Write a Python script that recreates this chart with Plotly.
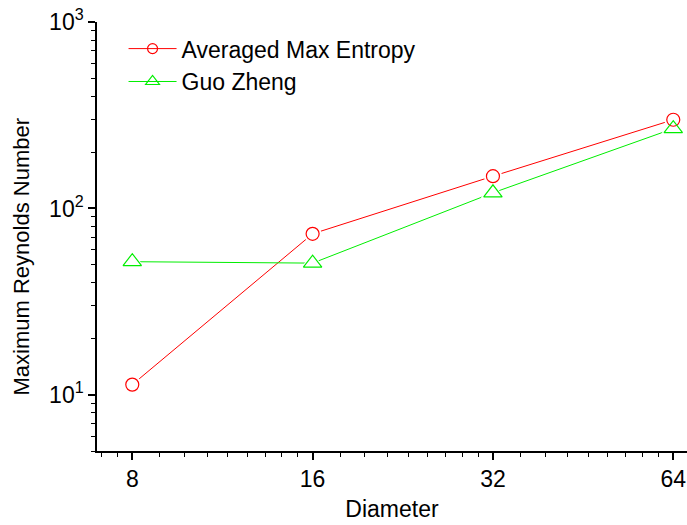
import math
import plotly.graph_objects as go

# Maximum Reynolds number vs. lattice diameter
diameter = [8, 16, 32, 64]
max_entropy = [11.35, 73.1, 148.9, 299]
guo_zheng = [51.8, 50.9, 121.3, 268]

series_names = ["Averaged Max Entropy", "Guo Zheng"]
x_tick_vals = [8, 16, 32, 64]
x_tick_text = ["8", "16", "32", "64"]
y_tick_vals = [10, 100, 1000]
y_tick_text = ["10<sup>1</sup>", "10<sup>2</sup>", "10<sup>3</sup>"]

FONT = "Arial, Liberation Sans, sans-serif"
RED = "#ff0000"
GREEN = "#00ee00"

# minor ticks: each octave split into nine equal linear steps
x_minor = []
for base in [4, 8, 16, 32, 64]:
    x_minor += [base + base * k / 9 for k in range(1, 9)]
# minor ticks on the log y axis: 2..9 of every decade
y_minor = [m * 10 ** p for p in range(0, 3) for m in range(2, 10)]

styles = [
    dict(name=series_names[0], y=max_entropy, color=RED, symbol="circle-open", size=13, legsize=10),
    dict(name=series_names[1], y=guo_zheng, color=GREEN, symbol="triangle-up-open", size=16, legsize=12),
]

fig = go.Figure()

# connecting lines
for s in styles:
    fig.add_trace(go.Scatter(x=diameter, y=s["y"], mode="lines", showlegend=False,
                             line=dict(color=s["color"], width=1), hoverinfo="skip"))
# white halos leave a small gap between line and symbol
for s in styles:
    fig.add_trace(go.Scatter(x=diameter, y=s["y"], mode="markers", showlegend=False,
                             marker=dict(symbol=s["symbol"].replace("-open", ""), size=s["size"] + 5,
                                         color="white", line=dict(width=0)),
                             hoverinfo="skip"))
# open symbols
for s in styles:
    fig.add_trace(go.Scatter(x=diameter, y=s["y"], mode="markers", showlegend=False,
                             marker=dict(symbol=s["symbol"], size=s["size"], color=s["color"],
                                         line=dict(color=s["color"], width=1.2)),
                             name=s["name"]))
# legend entries
for s in styles:
    fig.add_trace(go.Scatter(x=[None], y=[None], mode="lines+markers", name=s["name"],
                             line=dict(color=s["color"], width=1),
                             marker=dict(symbol=s["symbol"], size=s["legsize"], color=s["color"],
                                         line=dict(color=s["color"], width=1.2))))

axis_common = dict(
    type="log",
    showgrid=False,
    zeroline=False,
    showline=True,
    linecolor="black",
    linewidth=1.5,
    ticks="outside",
    ticklen=7,
    tickwidth=1.5,
    tickcolor="black",
    tickfont=dict(family=FONT, size=23, color="black"),
)

fig.update_layout(
    width=687,
    height=525,
    margin=dict(l=97, r=0, t=22, b=74),
    paper_bgcolor="white",
    plot_bgcolor="white",
    font=dict(family=FONT, color="black"),
    xaxis=dict(
        **axis_common,
        range=[0.8442, 1.8291],
        tickmode="array",
        tickvals=x_tick_vals,
        ticktext=x_tick_text,
        minor=dict(tickmode="array", tickvals=x_minor, ticks="outside", ticklen=4,
                   tickwidth=1.2, tickcolor="black", showgrid=False),
        title=dict(text="Diameter", font=dict(family=FONT, size=23, color="black"), standoff=10),
    ),
    yaxis=dict(
        **axis_common,
        range=[math.log10(5), 3],
        tickmode="array",
        tickvals=y_tick_vals,
        ticktext=y_tick_text,
        minor=dict(tickmode="array", tickvals=y_minor, ticks="outside", ticklen=4,
                   tickwidth=1.2, tickcolor="black", showgrid=False),
    ),
    legend=dict(
        x=0.045, y=0.988, xanchor="left", yanchor="top",
        bgcolor="rgba(0,0,0,0)", borderwidth=0,
        font=dict(family=FONT, size=23, color="black"),
        itemwidth=48,
        tracegroupgap=0,
    ),
    annotations=[
        dict(text="Maximum Reynolds Number", xref="paper", yref="paper",
             x=-0.128, y=0.4545, xanchor="center", yanchor="middle", textangle=-90,
             showarrow=False, font=dict(family=FONT, size=22, color="black")),
    ],
)

fig.write_html("out.html")
